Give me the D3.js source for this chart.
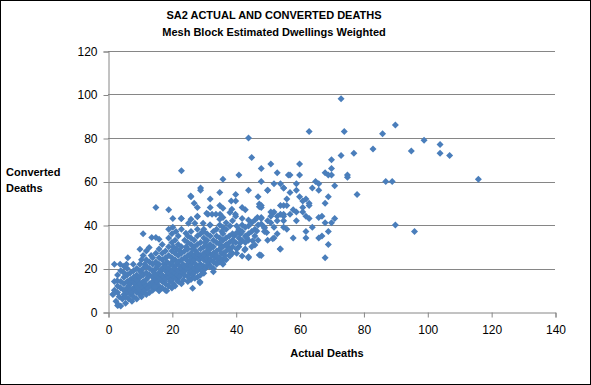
<!DOCTYPE html>
<html><head><meta charset="utf-8">
<script src="https://cdn.jsdelivr.net/npm/d3@7"></script>
<style>body{margin:0;background:#fff}svg{display:block}text{font-family:"Liberation Sans",Arial,sans-serif}</style>
</head><body><svg id="c" width="591" height="385"></svg>
<script>
const titleLines = ["SA2 ACTUAL AND CONVERTED DEATHS", "Mesh Block Estimated Dwellings Weighted"];
const xLabel = "Actual Deaths";
const yLabelLines = ["Converted", "Deaths"];
const xTicks = [0, 20, 40, 60, 80, 100, 120, 140];
const yTicks = [0, 20, 40, 60, 80, 100, 120];

// [actual, converted] pairs
const outliers = [[73,98],[44,80],[63,83],[74,83],[86,82],[90,86],[99,79],[104,77],[104,73],[107,72],[95,74],[83,75],[77,73],[73,72],[116,61],[87,60],[89,60],[90,40],[96,37],[45,71],[23,65]];
const upperMid = [[70,70],[70,66],[60,68],[51,68],[48,66],[53,64],[57,63],[60,63],[68,64],[69,63],[70,63],[75,63],[75,62],[48,60],[52,59],[54,59],[59,59],[65,60],[66,59],[50,56],[55,57],[59,56],[64,57],[66,56],[71,58],[57,55],[60,53],[69,53],[78,54],[48,49],[48,48],[56,52],[62,52],[61,51],[63,50],[63,49],[68,50],[54,49],[55,49],[56,49],[61,48],[58,47],[59,46],[61,46],[51,46],[52,46],[54,45],[55,45],[57,45],[51,44],[53,44],[55,44],[62,44],[63,43],[48,43],[50,42],[53,42],[55,42],[59,42],[66,43.5],[67,44],[71,43],[68,41],[70,41],[48,40.5],[51,41],[49,39],[52,39],[55,39],[56,38],[64,39],[62,37],[49,37],[53,36],[69,37],[67,35],[66,34],[50,33],[52,34],[58,34],[62,34],[69,31],[54,29],[48,26],[68,25]];
const midCloud = [[56.5,63],[41,63],[36,61],[29,57],[29,56],[35,55],[40,54],[44,56],[50,56],[55,57],[26,53],[32,52],[38.6,51],[40,51],[47,53],[27,50],[28,48],[35,49],[36,47.7],[32,48],[42,48],[43,47],[47.4,49.6],[47.4,48.4],[31.3,45],[32.6,45],[33.8,45],[35.1,45],[38.2,45.7],[38.8,47.2],[39.9,45],[23,43],[26,42.6],[28,43.8],[35,42.6],[36,43.5],[42,43],[44,42.3],[46,42.3],[46.8,43.5],[48,43.5],[51.6,45.4],[20.3,43],[25.2,40.8],[27.2,40.8],[29.8,40.8],[31.9,40],[38.2,39.5],[40.3,39.5],[44,39.5],[49,38.6],[20.3,39],[21.3,37],[24.4,36.2],[29.8,37],[35.6,37],[40.3,36.2],[46.6,37.2],[49.7,36.5],[51.6,33.7],[43.4,34.3],[41.3,31.6],[38,32],[45.3,32.8],[34.9,31.6],[40.3,29],[42.8,28.5],[38,28.5],[47.6,26.2],[44,25.4],[40.3,27],[53.9,29],[35.9,22.4],[31.9,20.8],[28.8,20.8],[15,48],[19,47],[25.9,53.3],[22.9,43],[28,44],[30.9,45.4],[11,36],[13.7,34.3],[15,34.3],[16,33.4],[19,38],[10,28.8],[12.9,29.7],[6.2,25],[2,22],[3.8,22],[5.8,22],[7.9,22],[10.5,24],[2.9,14.4],[1.7,8.3],[3.3,3.2],[4,2.8],[14.7,11.6],[16,9.8],[18.4,9.8],[26.5,10.9],[28.8,13.9],[25,16.2],[22.5,16.2],[25,14],[28.8,13.5],[33,18.5],[30,17.8],[36,22],[38.2,25.7],[42,25.7],[44,25],[47.4,26.2],[46,30.8],[43,32],[39.2,32.3],[23.6,14.7],[27.2,15.5]];
const coreLow = [[1.5,8],[2,10],[2,14],[2.5,5],[3,3],[3,9],[3,12],[3,17],[3.5,7],[4,11],[4,14],[4,19],[4.5,6],[5,8],[5,10],[5,13],[5,16],[5,18],[5,21],[5.5,4],[5.5,7],[6,9],[6,11],[6,14],[6,17],[6,20],[6.5,6],[6.5,12],[7,8],[7,10],[7,13],[7,15],[7,18],[7.5,5],[7.5,9],[8,7],[8,11],[8,14],[8,16],[8,19],[8.5,10],[8.5,13],[9,6],[9,9],[9,12],[9,15],[9,17],[9,20],[9.5,11],[9.5,14],[10,8],[10,10],[10,13],[10,16],[10,19],[10,22],[10.5,7],[10.5,12],[10.5,18],[11,9],[11,11],[11,14],[11,17],[11,20],[11,26],[11.5,10],[11.5,13],[11.5,22],[12,8],[12,12],[12,15],[12,18],[12,21],[12,24],[12,28],[12.5,11],[12.5,16],[13,9],[13,13],[13,17],[13,20],[13,23],[13.5,12],[13.5,26],[14,10],[14,14],[14,16],[14,19],[14,22],[14,25],[14.5,12],[14.5,18],[15,11],[15,13],[15,15],[15,17],[15,20],[15,23],[15,27],[15.5,14],[15.5,21],[16,10],[16,12],[16,16],[16,18],[16,22],[16,25],[16,29],[16.5,15],[16.5,19],[17,11],[17,14],[17,17],[17,20],[17,24],[17,27],[17,31],[17.5,16],[17.5,22],[18,10],[18,13],[18,15],[18,19],[18,21],[18,25],[18,28],[18.5,17],[18.5,23],[19,12],[19,16],[19,18],[19,20],[19,26],[19,30],[19,34],[19.5,14],[19.5,22],[20,11],[20,15],[20,17],[20,19],[20,23],[20,25],[20,28],[20,32],[20,36]];
const coreHigh = [[20.5,13],[20.5,21],[20.5,30],[21,12],[21,16],[21,18],[21,20],[21,24],[21,27],[21,33],[21.5,15],[21.5,22],[21.5,29],[22,14],[22,17],[22,19],[22,23],[22,26],[22,31],[22,35],[22.5,21],[22.5,28],[23,13],[23,18],[23,20],[23,24],[23,27],[23,30],[23,38],[23.5,22],[24,17],[24,19],[24,21],[24,25],[24,28],[24,33],[24.5,24],[24.5,30],[25,20],[25,22],[25,26],[25,29],[25,32],[25,35],[25.5,18],[25.5,23],[26,15],[26,19],[26,21],[26,25],[26,27],[26,31],[26,34],[26,37],[26.5,17],[26.5,23],[26.5,29],[27,18],[27,20],[27,24],[27,26],[27,30],[27,33],[27.5,22],[27.5,28],[28,16],[28,19],[28,21],[28,25],[28,27],[28,31],[28,35],[28,38],[28.5,20],[28.5,24],[29,17],[29,22],[29,26],[29,29],[29,32],[29,36],[29.5,19],[29.5,25],[30,21],[30,24],[30,27],[30,30],[30,34],[30,38],[30.5,20],[30.5,26],[30.5,32],[31,21],[31,23],[31,25],[31,28],[31,30],[31,33],[31,36],[31.5,22],[31.5,27],[32,21],[32,24],[32,29],[32,31],[32,35],[32,40],[32.5,26],[33,20],[33,23],[33,27],[33,30],[33,33],[33,37],[33.5,25],[34,22],[34,26],[34,28],[34,32],[34,35],[34,38],[34.5,24],[35,23],[35,25],[35,29],[35,31],[35,34],[35,40],[35.5,27],[36,24],[36,27],[36,30],[36,33],[36,36],[36,39],[36.5,26],[37,24],[37,28],[37,31],[37,34],[37,38],[37,41],[37.5,30],[38,26],[38,29],[38,35],[39,27],[39,30],[39,33],[39,36],[39,42],[39.5,35],[40,32],[40,36],[40,44],[41,30],[41,34],[41,38],[41.5,36],[42,33],[42,37],[42,40],[43,29],[43,35],[43,39],[44,33],[44,36],[45,30],[45,37],[45,41],[46,35],[46,38],[47,33],[47,40]];

const W = 591, H = 385;
const svg = d3.select("#c");
svg.append("rect").attr("x",0.5).attr("y",0.5).attr("width",W-1).attr("height",H-1).attr("fill","#fff").attr("stroke","#000");

const x = d3.scaleLinear().domain([0,140]).range([108,555]);
const y = d3.scaleLinear().domain([0,120]).range([312,51]);
const gridColor = "#868686";

svg.append("g").selectAll("line").data(yTicks.filter(v=>v>0)).join("line")
  .attr("x1",x(0)).attr("x2",x(140)).attr("y1",d=>Math.round(y(d))+0.5).attr("y2",d=>Math.round(y(d))+0.5)
  .attr("stroke",gridColor).attr("stroke-width",1);

const yAxis = svg.append("g").attr("transform",`translate(${x(0)+0.5},0.5)`)
  .call(d3.axisLeft(y).tickValues(yTicks).tickSize(5).tickPadding(6).tickFormat(d3.format("d")));
const xAxis = svg.append("g").attr("transform",`translate(0.5,${Math.round(y(0))+0.5})`)
  .call(d3.axisBottom(x).tickValues(xTicks).tickSize(5).tickPadding(8).tickFormat(d3.format("d")));
[yAxis,xAxis].forEach(g=>{
  g.selectAll("path,line").attr("stroke",gridColor);
  g.selectAll("text").attr("fill","#000").style("font-size","12px").style("font-family","'Liberation Sans',Arial,sans-serif");
});

const allPts = [].concat(coreLow, coreHigh, midCloud, upperMid, outliers);
svg.append("g").selectAll("path").data(allPts).join("path")
  .attr("d","M0,-3.5L3.5,0L0,3.5L-3.5,0Z")
  .attr("transform",d=>`translate(${x(d[0])},${y(d[1])})`)
  .attr("fill","#4A7EBB");

svg.append("g").selectAll("text").data(titleLines).join("text")
  .attr("x",274).attr("y",(d,i)=>19+i*16.5).attr("text-anchor","middle")
  .style("font-weight","bold").style("font-size","11px").text(d=>d);

svg.append("g").selectAll("text").data(yLabelLines).join("text")
  .attr("x",6).attr("y",(d,i)=>176+i*16).style("font-weight","bold").style("font-size","11px").text(d=>d);

svg.append("text").attr("x",327).attr("y",357).attr("text-anchor","middle")
  .style("font-weight","bold").style("font-size","11px").text(xLabel);
</script></body></html>
